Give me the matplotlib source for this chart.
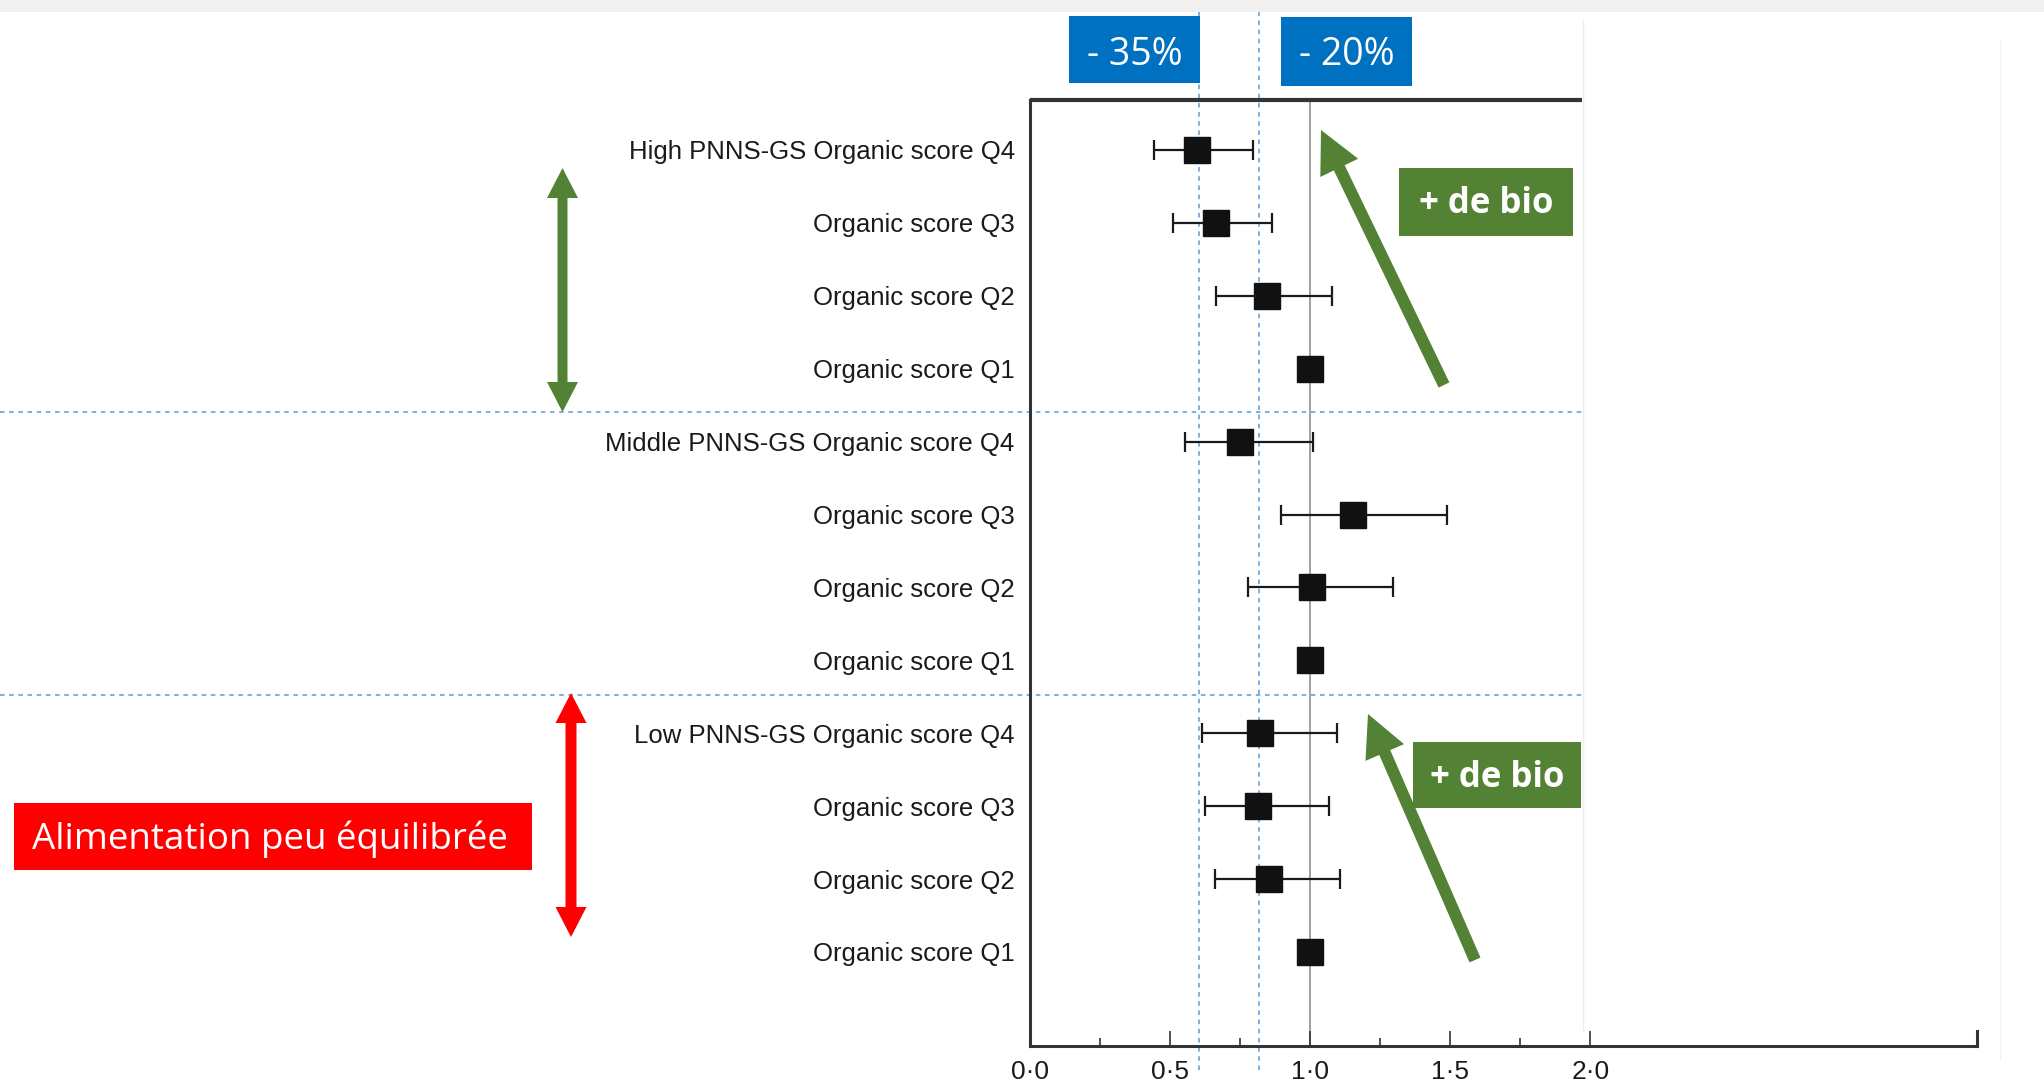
import numpy as np
import matplotlib.pyplot as plt
from matplotlib.patches import Rectangle, FancyArrow

# === 데이터: organic score quartiles within PNNS-GS strata (HR + 95% CI) ===
labels = [
    "High PNNS-GS Organic score Q4", "Organic score Q3", "Organic score Q2", "Organic score Q1",
    "Middle PNNS-GS Organic score Q4", "Organic score Q3", "Organic score Q2", "Organic score Q1",
    "Low PNNS-GS Organic score Q4", "Organic score Q3", "Organic score Q2", "Organic score Q1",
]
hr = [0.595, 0.664, 0.845, 1.0, 0.750, 1.152, 1.006, 1.0, 0.821, 0.815, 0.852, 1.0]
ci_low = [0.444, 0.512, 0.663, None, 0.554, 0.895, 0.777, None, 0.613, 0.626, 0.661, None]
ci_high = [0.795, 0.863, 1.077, None, 1.011, 1.488, 1.295, None, 1.095, 1.067, 1.105, None]

ref_values = [0.604, 0.817]          # dashed guides
ref_labels = ["- 35%", "- 20%"]
group_breaks = [3.6, 7.48]           # between strata
major_ticks = [0.0, 0.5, 1.0, 1.5, 2.0]
minor_ticks = [0.25, 0.75, 1.25, 1.75]

W, H = 2044, 1081
BLUE = "#0070C0"
GREEN = "#548235"
RED = "#FF0000"
GUIDE = "#5B9BD5"
LINE = "#333333"

plt.rcParams["font.family"] = ["Liberation Sans", "DejaVu Sans"]

fig = plt.figure(figsize=(W / 100, H / 100), dpi=100, facecolor="white")

# --- forest plot axes (positions in pixels from top-left) ---
ax_l, ax_r, ax_t, ax_b = 1030, 1977, 100, 1046
ax = fig.add_axes([ax_l / W, 1 - ax_b / H, (ax_r - ax_l) / W, (ax_b - ax_t) / H])
row_px0, row_step = 150, 72.9
y_top = (ax_t - row_px0) / row_step
y_bot = (ax_b - row_px0) / row_step
xmax = 3.38
ax.set_xlim(0, xmax)
ax.set_ylim(y_bot, y_top)

y = np.arange(len(labels))
hr = np.array(hr)

# reference line at HR = 1
ax.plot([1.0, 1.0], [y_bot, y_top], color="#999999", lw=1.3, zorder=1)

# CI whiskers (reference quartile has none)
for yi, lo, hi in zip(y, ci_low, ci_high):
    if lo is None:
        continue
    ax.errorbar([(lo + hi) / 2], [yi], xerr=[[(hi - lo) / 2], [(hi - lo) / 2]],
                fmt="none", ecolor="#1a1a1a", elinewidth=1.6, capsize=7, capthick=1.6, zorder=3)
ax.plot(hr, y, "s", ms=19, color="#111111", zorder=4)

# dashed guides
for v in ref_values:
    ax.plot([v, v], [(1070 - row_px0) / row_step, (11 - row_px0) / row_step],
            ls=(0, (3, 3)), color=GUIDE, lw=1.1, clip_on=False, zorder=2)
x_left = (0 - ax_l) / ((ax_r - ax_l) / xmax)
for b in group_breaks:
    ax.plot([x_left, 1.97], [b, b], ls=(0, (3, 3)), color=GUIDE, lw=1.1,
            clip_on=False, zorder=2)

# frame: left + bottom spines, short top rule, end tick
for s in ["top", "right"]:
    ax.spines[s].set_visible(False)
for s in ["left", "bottom"]:
    ax.spines[s].set_linewidth(2.2)
    ax.spines[s].set_color(LINE)
ax.plot([0, 1.97], [y_top, y_top], color=LINE, lw=3, clip_on=False, solid_capstyle="butt")
ax.plot([xmax, xmax], [y_bot, y_bot - 0.2], color=LINE, lw=2.2, clip_on=False)

ax.set_xticks(major_ticks)
ax.set_xticks(minor_ticks, minor=True)
ax.set_xticklabels([f"{v:.1f}".replace(".", "\u00b7") for v in major_ticks])
ax.tick_params(axis="x", which="major", direction="in", length=11, width=1.2,
               color=LINE, pad=10, labelsize=19, labelcolor="#1a1a1a")
ax.tick_params(axis="x", which="minor", direction="in", length=6, width=1.2, color=LINE)
ax.set_yticks(y)
ax.set_yticklabels(labels)
ax.tick_params(axis="y", length=0, pad=11, labelsize=18.5, labelcolor="#1a1a1a")

# --- annotation layer in pixel coordinates ---
ov = fig.add_axes([0, 0, 1, 1], zorder=5)
ov.set_xlim(0, W)
ov.set_ylim(H, 0)
ov.axis("off")
ov.patch.set_alpha(0)

ov.add_patch(Rectangle((0, 0), W, 12, color="#f0f0f0", lw=0))
ov.plot([1583, 1583], [20, 1030], color="#eeeeee", lw=1)
ov.plot([2000, 2000], [40, 1060], color="#f3f3f3", lw=1)

box_font = ["Open Sans", "DejaVu Sans"]

# pourcentages
for (x0, y0, w, h), txt in zip([(1069, 16, 131, 67), (1281, 17, 131, 69)], ref_labels):
    ov.add_patch(Rectangle((x0, y0), w, h, color=BLUE, lw=0))
    ov.text(x0 + w / 2, 65, txt, color="white", fontsize=27, family=box_font,
            ha="center", va="baseline")

# + de bio
for (x0, y0, w, h), base in zip([(1399, 168, 174, 68), (1413, 742, 168, 66)], [213, 787]):
    ov.add_patch(Rectangle((x0, y0), w, h, color=GREEN, lw=0))
    ov.text(x0 + w / 2, base, "+ de bio", color="white", fontsize=25, family=box_font,
            weight="bold", ha="center", va="baseline")

# flèches obliques
for (x0, y0, x1, y1) in [(1444, 385, 1321, 130), (1475, 960, 1368, 714)]:
    ov.add_patch(FancyArrow(x0, y0, x1 - x0, y1 - y0, width=12, head_width=42,
                            head_length=42, length_includes_head=True, color=GREEN, lw=0))

# flèches doubles
for xc, top, bot, col, wd in [(562.5, 168, 412, GREEN, 10), (571, 693, 937, RED, 11)]:
    mid = (top + bot) / 2
    for tip in (top, bot):
        ov.add_patch(FancyArrow(xc, mid, 0, tip - mid, width=wd, head_width=31,
                                head_length=30, length_includes_head=True, color=col, lw=0))

ov.add_patch(Rectangle((14, 803), 518, 67, color=RED, lw=0))
ov.text(270, 849, "Alimentation peu équilibrée", color="white", fontsize=26.5,
        family=box_font, ha="center", va="baseline")

fig.savefig("out.png", dpi=100, facecolor="white")
